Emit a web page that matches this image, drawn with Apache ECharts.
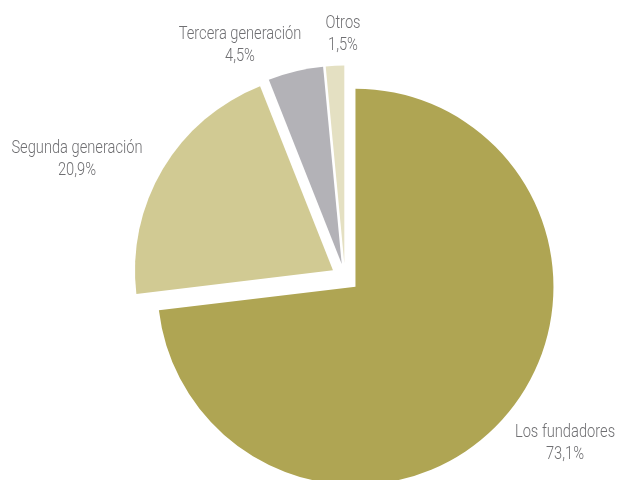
<!DOCTYPE html>
<html>
<head>
<meta charset="utf-8">
<script src="https://cdn.jsdelivr.net/npm/echarts@6/dist/echarts.min.js"></script>
<style>html,body{margin:0;padding:0;background:#fff}#c{width:617px;height:480px}</style>
</head>
<body>
<div id="c"></div>
<script>
const categories = ['Los fundadores', 'Segunda generación', 'Tercera generación', 'Otros'];
const values = [73.1, 20.9, 4.5, 1.5];
const colors = ['#afa553', '#d1ca93', '#b3b2b7', '#e4e0c2'];
const labelCenters = [[565, 443], [77, 159], [240, 45], [343, 34]];

const fmt = v => String(v).replace('.', ',') + '%';

const chart = echarts.init(document.getElementById('c'), null, {renderer: 'canvas'});
chart.setOption({
  animation: false,
  backgroundColor: '#fff',
  graphic: categories.map((c, i) => ({
    type: 'text',
    x: labelCenters[i][0],
    y: labelCenters[i][1],
    scaleX: 0.815,
    silent: true,
    style: {
      text: c + '\n' + fmt(values[i]),
      textAlign: 'center',
      textVerticalAlign: 'middle',
      font: '300 18px Roboto, "Liberation Sans", sans-serif',
      lineHeight: 22,
      fill: '#6f6f72'
    }
  })),
  series: [{
    type: 'pie',
    center: [345, 277.5],
    radius: 198,
    startAngle: 90,
    clockwise: true,
    selectedMode: 'multiple',
    selectedOffset: 14,
    emphasis: {disabled: true},
    labelLine: {show: false},
    label: {show: false},
    data: categories.map((c, i) => ({
      name: c, value: values[i], selected: true,
      itemStyle: {color: colors[i]}
    }))
  }]
});
</script>
</body>
</html>
